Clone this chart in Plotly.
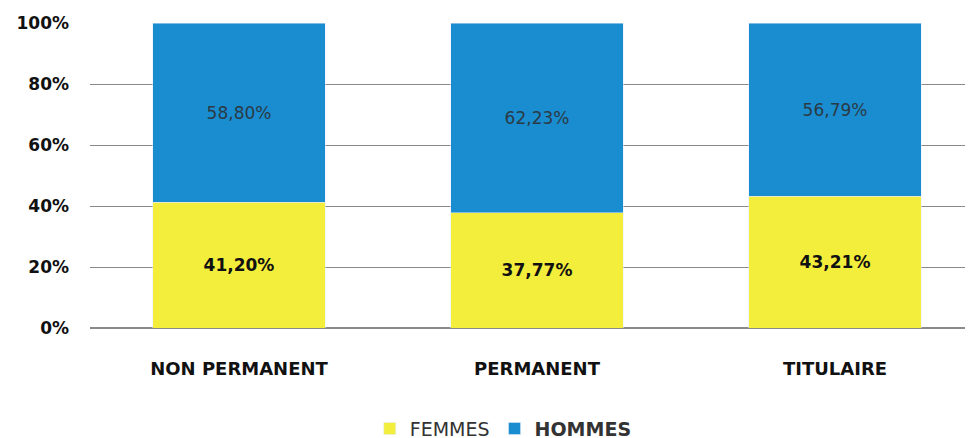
import plotly.graph_objects as go

categories = ["NON PERMANENT", "PERMANENT", "TITULAIRE"]
femmes = [0.4120, 0.3777, 0.4321]
hommes = [0.5880, 0.6223, 0.5679]
y_ticks = [0, 0.2, 0.4, 0.6, 0.8, 1.0]

FONT = "DejaVu Sans"

fig = go.Figure()
fig.add_bar(x=categories, y=femmes, name="FEMMES", marker_color="#F3EE3B",
            texttemplate="<b>%{y:.2%}</b>", textposition="inside", insidetextanchor="middle",
            textfont=dict(color="#111111", size=17, family=FONT), width=0.58)
fig.add_bar(x=categories, y=hommes, name="<b>HOMMES</b>", marker_color="#1A8DD0",
            texttemplate="%{y:.2%}", textposition="inside", insidetextanchor="middle",
            textfont=dict(color="#2a3a45", size=17, family=FONT), width=0.58)

fig.update_layout(
    barmode="stack",
    width=973, height=438,
    margin=dict(l=82, r=8, t=15, b=118, autoexpand=False),
    paper_bgcolor="white", plot_bgcolor="white",
    separators=", ",
    font=dict(family=FONT, color="#111111"),
    showlegend=True,
    legend=dict(orientation="h", x=0.468, xanchor="center", y=-0.33, yanchor="middle",
                font=dict(size=19, color="#333333", family=FONT), traceorder="normal"),
)
fig.update_xaxes(range=[-0.5, 2.463], showgrid=False, showline=False, ticks="",
                 automargin=False,
                 tickfont=dict(size=18, color="#111111", family=FONT, weight="bold"),
                 ticklabelstandoff=28)
fig.update_yaxes(range=[0, 1], tickvals=y_ticks, tickformat=".0%", showgrid=True,
                 automargin=False,
                 gridcolor="#8a8a8a", gridwidth=1, zeroline=True, zerolinecolor="#8a8a8a",
                 showline=False, ticks="", ticklabelstandoff=20,
                 tickfont=dict(size=17, color="#111111", family=FONT, weight="bold"))
fig.update_traces(textangle=0)
fig.write_html("out.html")
